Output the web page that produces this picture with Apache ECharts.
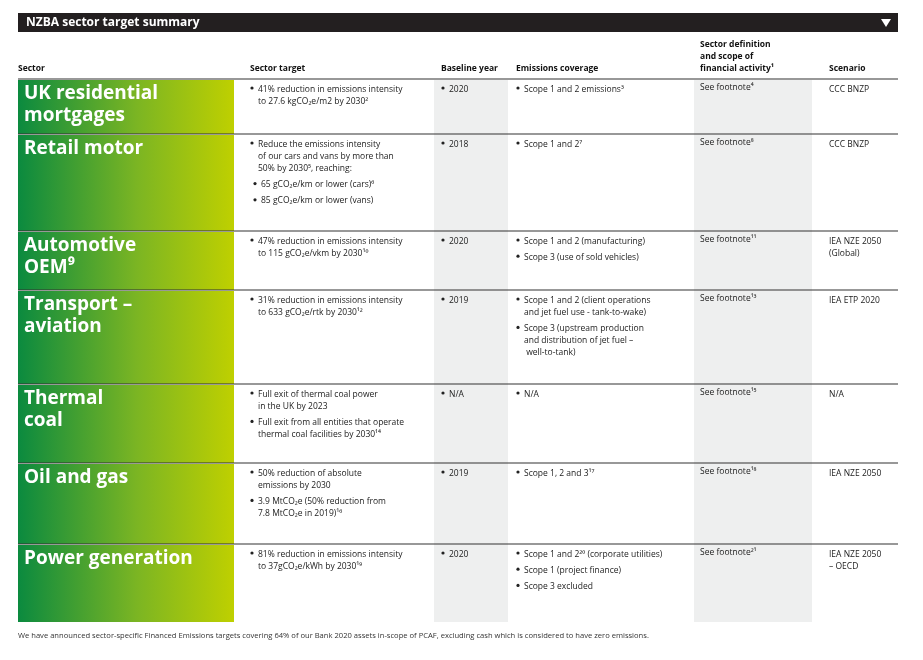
<!DOCTYPE html><html><head><meta charset="utf-8">
<script src="https://cdn.jsdelivr.net/npm/echarts@6/dist/echarts.min.js"></script>
<style>html,body{margin:0;background:#fff}#c{width:923px;height:660px}</style></head><body><div id="c"></div>
<script>
const title = "NZBA sector target summary";
const headers = ["Sector","Sector target","Baseline year","Emissions coverage","Sector definition\nand scope of\nfinancial activity¹","Scenario"];
const sectors = ["UK residential\nmortgages","Retail motor","Automotive\nOEM⁹","Transport –\naviation","Thermal\ncoal","Oil and gas","Power generation"];
const targets = [
 ["41% reduction in emissions intensity\nto 27.6 kgCO₂e/m2 by 2030²"],
 ["Reduce the emissions intensity\nof our cars and vans by more than\n50% by 2030⁵, reaching:","  • 65 gCO₂e/km or lower (cars)⁶","  • 85 gCO₂e/km or lower (vans)"],
 ["47% reduction in emissions intensity\nto 115 gCO₂e/vkm by 2030¹⁰"],
 ["31% reduction in emissions intensity\nto 633 gCO₂e/rtk by 2030¹²"],
 ["Full exit of thermal coal power\nin the UK by 2023","Full exit from all entities that operate\nthermal coal facilities by 2030¹⁴"],
 ["50% reduction of absolute\nemissions by 2030","3.9 MtCO₂e (50% reduction from\n7.8 MtCO₂e in 2019)¹⁶"],
 ["81% reduction in emissions intensity\nto 37gCO₂e/kWh by 2030¹⁹"]
];
const baselines = ["2020","2018","2020","2019","N/A","2019","2020"];
const coverage = [
 ["Scope 1 and 2 emissions³"],
 ["Scope 1 and 2⁷"],
 ["Scope 1 and 2 (manufacturing)","Scope 3 (use of sold vehicles)"],
 ["Scope 1 and 2 (client operations\nand jet fuel use - tank-to-wake)","Scope 3 (upstream production\nand distribution of jet fuel –\n well-to-tank)"],
 ["N/A"],
 ["Scope 1, 2 and 3¹⁷"],
 ["Scope 1 and 2²⁰ (corporate utilities)","Scope 1 (project finance)","Scope 3 excluded"]
];
const definitions = ["See footnote⁴","See footnote⁸","See footnote¹¹","See footnote¹³","See footnote¹⁵","See footnote¹⁸","See footnote²¹"];
const scenarios = ["CCC BNZP","CCC BNZP","IEA NZE 2050\n(Global)","IEA ETP 2020","N/A","IEA NZE 2050","IEA NZE 2050\n– OECD"];
const footer = "We have announced sector-specific Financed Emissions targets covering 64% of our Bank 2020 assets in-scope of PCAF, excluding cash which is considered to have zero emissions.";

const rowTops=[80,135,232,291,385,464,545], tableBottom=622, L=18, R=898;
const F='"Open Sans", Lato, sans-serif';
const g=[];
g.push({type:'rect',shape:{x:L,y:13,width:R-L,height:19},style:{fill:'#231f20'}});
g.push({type:'text',x:26,y:22.5,style:{text:title,fill:'#fff',font:'bold 12px '+F,verticalAlign:'middle'}});
g.push({type:'polygon',shape:{points:[[881,19],[891,19],[886,27]]},style:{fill:'#fff'}});
// grey columns
g.push({type:'rect',shape:{x:434,y:80,width:74,height:tableBottom-80},style:{fill:'#eeefef'}});
g.push({type:'rect',shape:{x:694,y:80,width:118,height:tableBottom-80},style:{fill:'#eeefef'}});
const hx=[18,250,441,516,700,829];
headers.forEach((h,i)=>g.push({type:'text',x:hx[i],y:75,style:{text:h,fill:'#111',font:'bold 8.5px '+F,verticalAlign:'bottom',lineHeight:12}}));
function bullets(arr,x,y){let yy=y;arr.forEach(t=>{const sub=t.startsWith('  •');const txt=sub?t.slice(4):t;
  const bx=sub?x+3:x;
  g.push({type:'circle',shape:{cx:bx+2,cy:yy+5,r:1.6},style:{fill:'#222'}});
  g.push({type:'text',x:bx+8,y:yy,style:{text:txt,fill:'#222',font:'8.5px '+F,lineHeight:12.2}});
  yy+=txt.split('\n').length*12.2+4;});}
rowTops.forEach((t,i)=>{const b=i<6?rowTops[i+1]:tableBottom;
  g.push({type:'rect',shape:{x:L,y:t,width:216,height:b-t-(i<6?1:0)},style:{fill:new echarts.graphic.LinearGradient(0,0,1,0,[{offset:0,color:'#0b8a3f'},{offset:0.55,color:'#7bb523'},{offset:1,color:'#bfd000'}])}});
  g.push({type:'line',shape:{x1:L,y1:t-1,x2:R,y2:t-1},style:{stroke:'#333',lineWidth:1.2}});
  g.push({type:'text',x:24,y:t+3,style:{text:sectors[i],fill:'#fff',font:'bold 19px '+F,lineHeight:22}});
  bullets(targets[i],250,t+3);
  bullets([baselines[i]],441,t+3);
  bullets(coverage[i],516,t+3);
  g.push({type:'text',x:700,y:t+3,style:{text:definitions[i],fill:'#222',font:'8.5px '+F}});
  g.push({type:'text',x:829,y:t+3,style:{text:scenarios[i],fill:'#222',font:'8.5px '+F,lineHeight:12.2}});
});
g.push({type:'text',x:18,y:632,style:{text:footer,fill:'#333',font:'7.6px '+F}});
const chart=echarts.init(document.getElementById('c'));
chart.setOption({animation:false,graphic:g});
</script></body></html>
